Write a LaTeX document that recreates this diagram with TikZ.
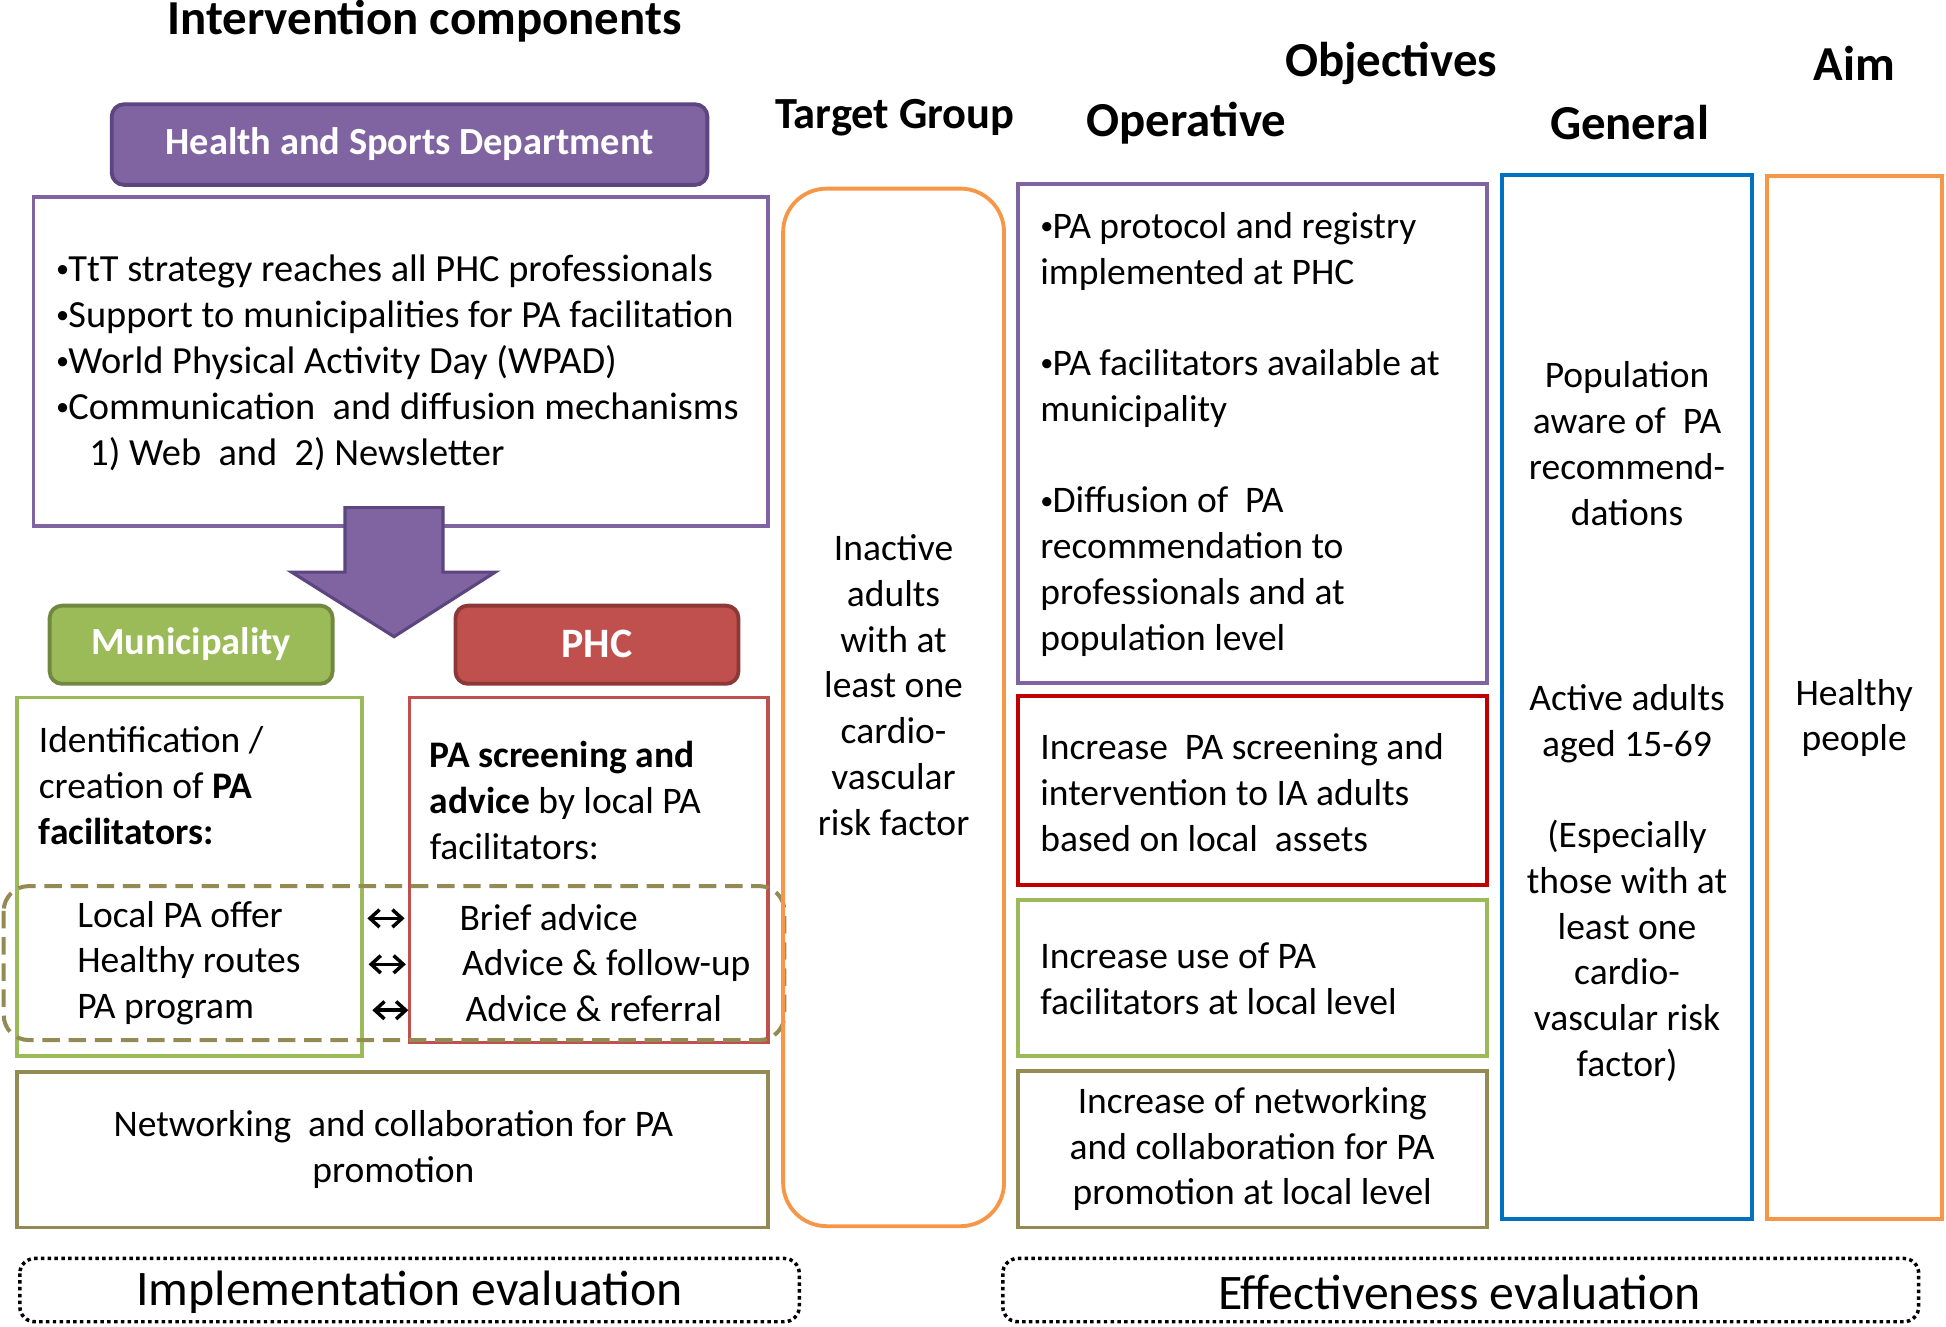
\documentclass[tikz,border=0pt]{standalone}
\usepackage{fontspec}
\setmainfont{Carlito}
\usetikzlibrary{arrows.meta}
\definecolor{purp}{HTML}{8064A2}
\definecolor{purpd}{HTML}{5C4680}
\definecolor{grn}{HTML}{9BBB59}
\definecolor{grnd}{HTML}{71893F}
\definecolor{rd}{HTML}{C0504D}
\definecolor{rdd}{HTML}{8C3836}
\definecolor{darkred}{HTML}{C00000}
\definecolor{olv}{HTML}{948A54}
\definecolor{blu}{HTML}{0070C0}
\definecolor{orng}{HTML}{F79646}
\newcommand{\bul}{\makebox[7pt][l]{\raisebox{2.2pt}{\fontsize{15}{15}\selectfont •}}}
\begin{document}
\begin{tikzpicture}[x=0.025cm,y=-0.025cm,
  frame/.style={line width=2.2pt},
  lbl/.style={rounded corners=0.25cm, line width=2.2pt},
  lbltext/.style={inner sep=0pt, text=white, font=\fontsize{22}{26}\selectfont\bfseries},
  body/.style={inner sep=0pt, font=\fontsize{21.5}{26.2}\selectfont},
  head/.style={inner sep=0pt, font=\fontsize{28}{33}\selectfont\bfseries},
  evaltext/.style={inner sep=0pt, font=\fontsize{28.5}{33}\selectfont},
  evalbox/.style={draw=black, line width=2pt, dash pattern=on 2pt off 1.9pt, rounded corners=0.3cm},
  dbl/.style={{Straight Barb[length=5.5pt,width=10pt]}-{Straight Barb[length=5.5pt,width=10pt]}, line width=2pt}
]
\useasboundingbox (0,0) rectangle (1568,1069);

% ---------- Left column: intervention components ----------
\node[inner sep=0pt, font=\fontsize{28}{33}\selectfont\bfseries] (title) at (342,17) {Intervention components};

\draw[lbl, fill=purp, draw=purpd] (90,84) rectangle (570,149);
\node[lbltext] (hsd) at (330,116) {Health and Sports Department};

\draw[frame, draw=purp] (27,159) rectangle (619,424);
\node[body, font=\fontsize{22}{26.4}\selectfont, anchor=west, align=left] (hsdtext) at (45,292.5) {\bul TtT strategy reaches all PHC professionals\\
\bul Support to municipalities for PA facilitation\\
\bul World Physical Activity Day (WPAD)\\
\bul Communication\ \ and diffusion mechanisms\\
\hspace*{19pt}1) Web\ \ and\ \ 2) Newsletter};

\draw[line width=1.8pt, draw=purpd, fill=purp, line join=miter]
  (278,409) -- (357,409) -- (357,461) -- (399,461) -- (317.5,513) -- (235,461) -- (278,461) -- cycle;

\draw[lbl, fill=grn, draw=grnd] (40,488) rectangle (268,551);
\node[lbltext] (mun) at (154,519) {Municipality};
\draw[lbl, fill=rd, draw=rdd] (367,488) rectangle (595,551);
\node[lbltext, font=\fontsize{24}{28}\selectfont\bfseries] (phc) at (481,519) {PHC};

\draw[frame, draw=grn] (14,562) rectangle (292,851);
\draw[frame, draw=rd] (330,562) rectangle (619,840);

\node[body, anchor=west, align=left] (muntext) at (31,633) {Identification /\\ creation of \textbf{PA}\\ \textbf{facilitators:}};
\node[body, anchor=west, align=left] (munlist) at (62,776) {Local PA offer\\ Healthy routes\\ PA program};
\node[body, anchor=west, align=left] (phctext) at (346,645) {\textbf{PA screening and}\\ \textbf{advice} by local PA\\ facilitators:};
\node[body, anchor=west, align=left] (phclist) at (370,776) {Brief advice\\ \hspace*{1.5pt}Advice \& follow-up\\ \hspace*{3.5pt}Advice \& referral};

\draw[olv, line width=2.3pt, dash pattern=on 10pt off 5pt, rounded corners=0.5cm] (3,714) rectangle (632,838);

\coordinate (a1l) at (296,740);
\coordinate (a1r) at (326,740);
\coordinate (a2l) at (297,777);
\coordinate (a2r) at (327,777);
\coordinate (a3l) at (300,814);
\coordinate (a3r) at (329,814);
\draw[dbl] (a1l) -- (a1r);
\draw[dbl] (a2l) -- (a2r);
\draw[dbl] (a3l) -- (a3r);

\draw[frame, draw=olv] (14,864) rectangle (619,989);
\node[body, align=center] (net) at (317,926.5) {Networking\ \ and collaboration for PA\\ promotion};

\draw[evalbox] (16,1014) rectangle (644,1065);
\node[evaltext] (impl) at (330,1041) {Implementation evaluation};

% ---------- Target group ----------
\node[inner sep=0pt, font=\fontsize{25.5}{30}\selectfont\bfseries] (tghead) at (721,95) {Target Group};
\draw[frame, draw=orng, rounded corners=0.875cm] (631,152) rectangle (809,988);
\node[body, align=center] (tg) at (720,552) {Inactive\\ adults\\ with at\\ least one\\ cardio-\\ vascular\\ risk factor};

% ---------- Objectives ----------
\node[head] (objhead) at (1121,51) {Objectives};
\node[head] (ophead) at (956,99) {Operative};
\node[head] (genhead) at (1313,99) {General};
\node[head] (aimhead) at (1494,51) {Aim};

\draw[frame, draw=purp] (820,148) rectangle (1198,550);
\node[body, anchor=west, align=left] (op1) at (838,350) {\bul PA protocol and registry\\ implemented at PHC\\[26.2pt]
\bul PA facilitators available at\\ municipality\\[26.2pt]
\bul Diffusion of\ \ PA\\ recommendation to\\ professionals and at\\ population level};

\draw[frame, draw=darkred] (820,561) rectangle (1198,713);
\node[body, anchor=west, align=left] (op2) at (838,638.5) {Increase\ \ PA screening and\\ intervention to IA adults\\ based on local\ \ assets};

\draw[frame, draw=grn] (820,725) rectangle (1198,851);
\node[body, anchor=west, align=left] (op3) at (838,788.5) {Increase use of PA\\ facilitators at local level};

\draw[frame, draw=olv] (820,863) rectangle (1198,989);
\node[body, align=center] (op4) at (1009,926) {Increase of networking\\ and collaboration for PA\\ promotion at local level};

\draw[frame, draw=blu] (1210,141) rectangle (1412,982);
\node[body, align=center] (gen1) at (1311,357.5) {Population\\ aware of\ \ PA\\ recommend-\\ dations};
\node[body, align=center] (gen2) at (1311,711.5) {Active adults\\ aged 15-69\\[26.2pt] (Especially\\ those with at\\ least one\\ cardio-\\ vascular risk\\ factor)};

\draw[frame, draw=orng] (1424,142) rectangle (1565,982);
\node[body, align=center] (aim) at (1494,578.5) {Healthy\\ people};

\draw[evalbox] (808,1014) rectangle (1546,1065);
\node[evaltext] (eff) at (1176,1041) {Effectiveness evaluation};
\end{tikzpicture}
\end{document}
